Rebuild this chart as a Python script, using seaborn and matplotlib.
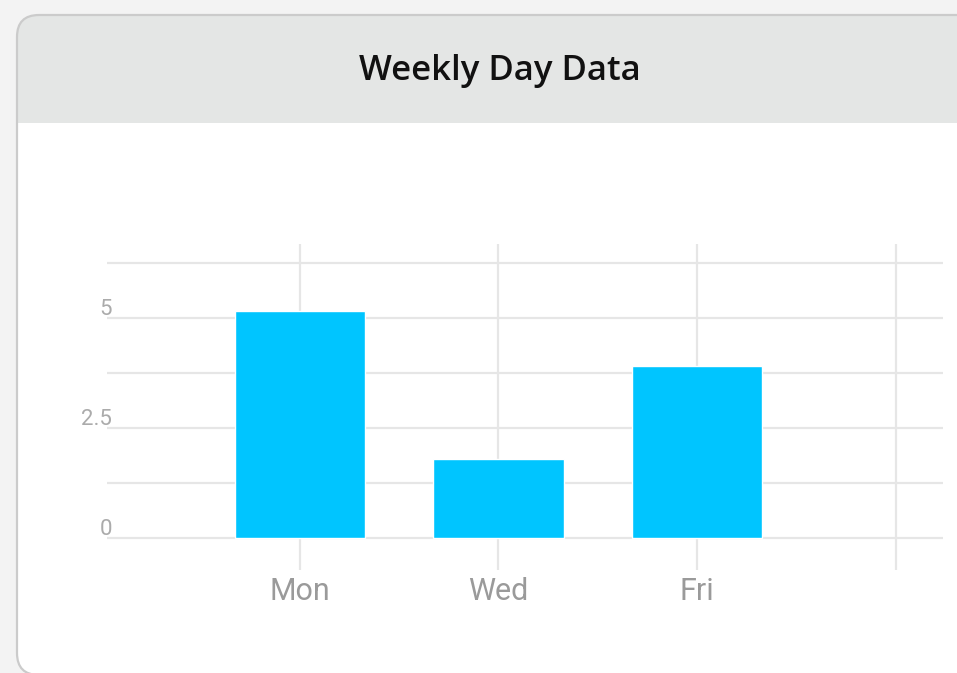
import matplotlib
matplotlib.use("Agg")
import matplotlib.pyplot as plt
import seaborn as sns
import pandas as pd
from matplotlib.patches import FancyBboxPatch, Rectangle
from matplotlib.transforms import IdentityTransform

days = ["Mon", "Wed", "Fri"]
values = [5.15, 1.8, 3.9]
x_tick_labels = ["Mon", "Wed", "Fri", ""]
y_ticks = [0, 1.25, 2.5, 3.75, 5, 6.25]
y_tick_labels = ["0", "", "2.5", "", "5", ""]

W, H = 957, 673
sns.set_theme(style="white")
plt.rcParams['font.family'] = ['Roboto', 'DejaVu Sans']

fig = plt.figure(figsize=(W / 100, H / 100), dpi=100)
fig.patch.set_facecolor("#f3f3f3")

def box(x0, y0, x1, y1):
    # pixel coords, origin top-left
    return (x0, H - y1, x1 - x0, y1 - y0)

idt = IdentityTransform()
# card fill
x, y, w, h = box(17, 15, 1000, 675)
fig.add_artist(FancyBboxPatch((x, y), w, h, boxstyle="round,pad=0,rounding_size=22",
                              transform=idt, facecolor="white", edgecolor="none", zorder=0))
# header band
x, y, w, h = box(17, 15, 1000, 160)
fig.add_artist(FancyBboxPatch((x, y), w, h, boxstyle="round,pad=0,rounding_size=22",
                              transform=idt, facecolor="#e4e6e5", edgecolor="none", zorder=1))
x, y, w, h = box(18, 123, 1000, 640)
fig.add_artist(Rectangle((x, y), w, h, transform=idt, facecolor="white", edgecolor="none", zorder=2))
# card border
x, y, w, h = box(17, 15, 1000, 675)
fig.add_artist(FancyBboxPatch((x, y), w, h, boxstyle="round,pad=0,rounding_size=22",
                              transform=idt, facecolor="none", edgecolor="#cbcbcb", linewidth=1.6, zorder=3))

fig.text(500 / W, 1 - 71 / H, "Weekly Day Data", ha="center", va="center",
         fontsize=25, fontweight="semibold", color="#111111",
         family=["Open Sans", "DejaVu Sans"], zorder=5)

ax = fig.add_axes([107 / W, 1 - 570 / H, (943 - 107) / W, (570 - 244) / H])
ax.set_zorder(4)
ax.patch.set_visible(False)

df = pd.DataFrame({"day": days, "value": values})
sns.barplot(data=df, x="day", y="value", ax=ax, color="#00c5ff", saturation=1,
            width=0.655, order=days)

ax.set_xlim(-0.972, 3.239)
ax.set_ylim(-0.73, 6.68)
ax.set_xticks([0, 1, 2, 3])
ax.set_xticklabels(x_tick_labels)
ax.set_yticks(y_ticks)
ax.set_yticklabels([])
ax.set_xlabel("")
ax.set_ylabel("")
for s in ax.spines.values():
    s.set_visible(False)
ax.tick_params(axis="both", length=0)
ax.tick_params(axis="x", labelsize=22, labelcolor="#9a9a9a", pad=5)
ax.grid(True, color="#e6e6e6", linewidth=1.6)
ax.set_axisbelow(True)

for v, lab in zip(y_ticks, y_tick_labels):
    if lab:
        ax.text(-0.972 + 5.0 / 198.5, v + 0.06, lab, ha="right", va="baseline",
                fontsize=16, color="#ababab", transform=ax.transData)

fig.savefig("out.png", dpi=100, facecolor=fig.get_facecolor())
